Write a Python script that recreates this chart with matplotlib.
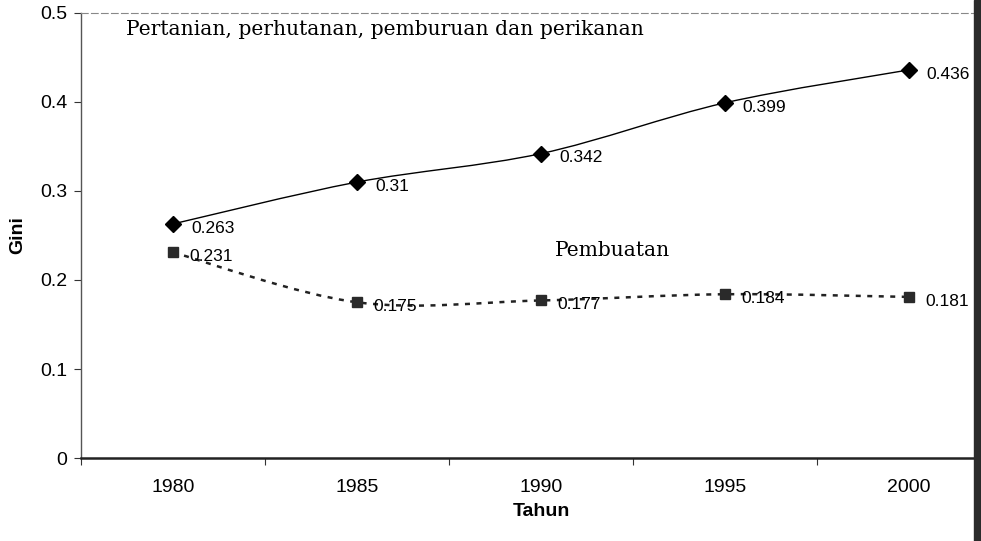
import matplotlib.pyplot as plt
from matplotlib.path import Path
from matplotlib.patches import PathPatch, Rectangle

tahun = ["1980", "1985", "1990", "1995", "2000"]
pertanian = [0.263, 0.31, 0.342, 0.399, 0.436]
pembuatan = [0.231, 0.175, 0.177, 0.184, 0.181]


def smooth_path(ys):
    # kurva bezier ala "smoothed line" Excel
    xs = list(range(len(ys)))
    verts = [(xs[0], ys[0])]
    codes = [Path.MOVETO]
    n = len(ys)
    for i in range(n - 1):
        x0, y0 = xs[max(i - 1, 0)], ys[max(i - 1, 0)]
        x1, y1 = xs[i], ys[i]
        x2, y2 = xs[i + 1], ys[i + 1]
        x3, y3 = xs[min(i + 2, n - 1)], ys[min(i + 2, n - 1)]
        c1 = (x1 + (x2 - x0) / 6, y1 + (y2 - y0) / 6)
        c2 = (x2 - (x3 - x1) / 6, y2 - (y3 - y1) / 6)
        verts += [c1, c2, (x2, y2)]
        codes += [Path.CURVE4] * 3
    return Path(verts, codes)


fig = plt.figure(figsize=(9.81, 5.41), dpi=100)
ax = fig.add_axes([0.0826, 0.1534, 1.02 - 0.0826, 0.8226])

x = list(range(len(tahun)))

ax.add_patch(PathPatch(smooth_path(pertanian), fill=False, color="black", lw=1.0))
ax.add_patch(PathPatch(smooth_path(pembuatan), fill=False, color="#222222", lw=1.8,
                       linestyle=(0, (2.0, 2.6))))
ax.plot(x, pertanian, linestyle="none", marker="D", markersize=8, color="black")
ax.plot(x, pembuatan, linestyle="none", marker="s", markersize=7.5, color="#2a2a2a")

for xi, v in zip(x, pertanian):
    ax.annotate(f"{v:g}", (xi, v), xytext=(13, -3), textcoords="offset points",
                ha="left", va="center", fontsize=12.5, family="Liberation Sans")
for xi, v in zip(x, pembuatan):
    ax.annotate(f"{v:g}", (xi, v), xytext=(12, -3), textcoords="offset points",
                ha="left", va="center", fontsize=12.5, family="Liberation Sans")

ax.text(126 / 981, 1 - 35 / 541, "Pertanian, perhutanan, pemburuan dan perikanan",
        transform=fig.transFigure, family="DejaVu Serif", fontsize=14.6,
        ha="left", va="baseline")
ax.text(555 / 981, 1 - 256 / 541, "Pembuatan", transform=fig.transFigure,
        family="DejaVu Serif", fontsize=14.6, ha="left", va="baseline")

ax.set_xlim(-0.5, 4.5)
ax.set_ylim(0, 0.5)
ax.set_xticks([i - 0.5 for i in range(len(tahun))])
ax.set_xticklabels([])
ax.set_xticks(x, minor=True)
ax.set_xticklabels(tahun, minor=True, fontsize=14, family="Liberation Sans")
ax.tick_params(axis="x", which="major", length=5, direction="out", color="#333333")
ax.tick_params(axis="x", which="minor", length=0, pad=15)
ax.set_yticks([0, 0.1, 0.2, 0.3, 0.4, 0.5])
ax.set_yticklabels(["0", "0.1", "0.2", "0.3", "0.4", "0.5"], fontsize=14,
                   family="Liberation Sans")
ax.tick_params(axis="y", length=5, direction="out", color="#333333", pad=5)

ax.spines["right"].set_visible(False)
ax.spines["top"].set_linestyle((0, (6, 3)))
ax.spines["top"].set_color("#888888")
ax.spines["top"].set_linewidth(0.8)
ax.spines["left"].set_color("#555555")
ax.spines["left"].set_linewidth(1.0)
ax.spines["bottom"].set_color("#222222")
ax.spines["bottom"].set_linewidth(1.8)

fig.text(541 / 981, 1 - 512 / 541, "Tahun", ha="center", va="center",
         fontsize=14, fontweight="bold", family="Liberation Sans")
fig.text(18 / 981, 1 - 235 / 541, "Gini", ha="center", va="center", rotation=90,
         fontsize=14, fontweight="bold", family="Liberation Sans")

# tepi gelap hasil scan di kanan
fig.patches.append(Rectangle((974 / 981, 0.0), 7 / 981, 1.0, transform=fig.transFigure,
                             color="#2b2b2b", zorder=5))

fig.savefig("out.png", dpi=100)
